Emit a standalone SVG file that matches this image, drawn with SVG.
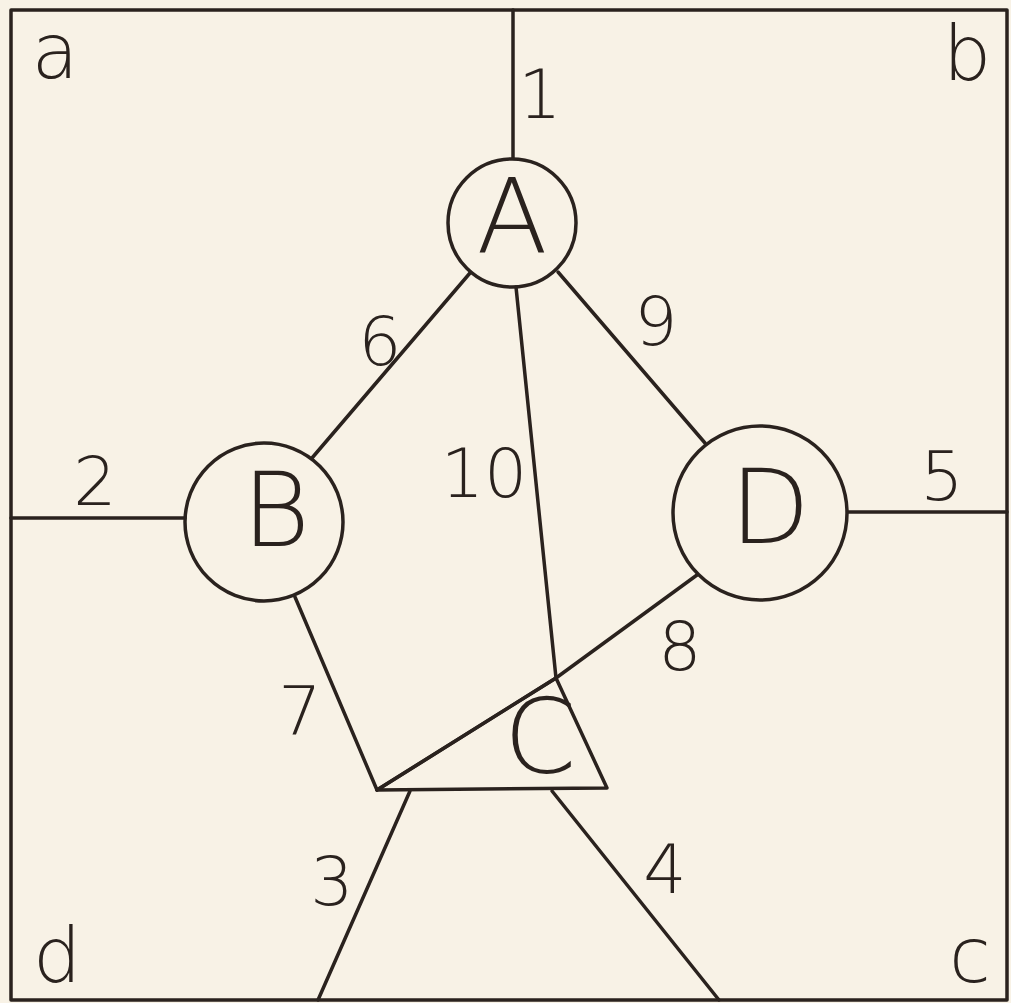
<svg xmlns="http://www.w3.org/2000/svg" width="1011" height="1003" viewBox="0 0 1011 1003">
<style>
.ln{stroke:#2a221e;stroke-width:3.5;fill:none;stroke-linecap:round;stroke-linejoin:round}
.nd{stroke:#2a221e;stroke-width:3.5;fill:none}
.t{font-family:"DejaVu Sans","Liberation Sans",sans-serif;font-weight:200;fill:#2a221e;text-anchor:middle}
.big{font-size:104px}
.num{font-size:68px}
.low{font-size:76px}
</style>
<rect width="1011" height="1003" fill="#f8f2e6"/>
<rect x="11" y="10" width="996" height="990" class="ln"/>
<g id="connectors">
<line x1="513" y1="10" x2="513" y2="158" class="ln"/>
<line x1="11" y1="518" x2="185" y2="518" class="ln"/>
<line x1="848" y1="512" x2="1007" y2="512" class="ln"/>
<line x1="470" y1="273" x2="312" y2="458" class="ln"/>
<line x1="558" y1="272" x2="705" y2="443" class="ln"/>
<line x1="516" y1="287" x2="556" y2="678" class="ln"/>
<polyline points="697,575 556,678 377,790" class="ln"/>
<line x1="295" y1="597" x2="377" y2="790" class="ln"/>
<line x1="410" y1="791" x2="318" y2="1000" class="ln"/>
<line x1="552" y1="791" x2="719" y2="1000" class="ln"/>
</g>
<g id="labels">
<text class="t low" x="55" y="78">a</text>
<text class="t low" x="967" y="80">b</text>
<text class="t low" x="970" y="982">c</text>
<text class="t low" x="57" y="982">d</text>
<text class="t num" x="540" y="118">1</text>
<text class="t num" x="95" y="505">2</text>
<text class="t num" x="332" y="905">3</text>
<text class="t num" x="665" y="893">4</text>
<text class="t num" x="942" y="500">5</text>
<text class="t num" x="380" y="365">6</text>
<text class="t num" x="300" y="735">7</text>
<text class="t num" x="680" y="670">8</text>
<text class="t num" x="656" y="345">9</text>
<text class="t num" x="484" y="497">10</text>
</g>
<g id="node-A">
<circle cx="512" cy="223" r="64" class="nd"/>
<text class="t big" x="512" y="253">A</text>
</g>
<g id="node-B">
<circle cx="264" cy="522" r="79" class="nd"/>
<text class="t big" x="276" y="546">B</text>
</g>
<g id="node-D">
<circle cx="760" cy="513" r="87" class="nd"/>
<text class="t big" x="770" y="543">D</text>
</g>
<g id="node-C">
<polygon points="377,790 607,788 556,678" class="ln"/>
<text class="t big" x="540" y="773">C</text>
</g>
</svg>
